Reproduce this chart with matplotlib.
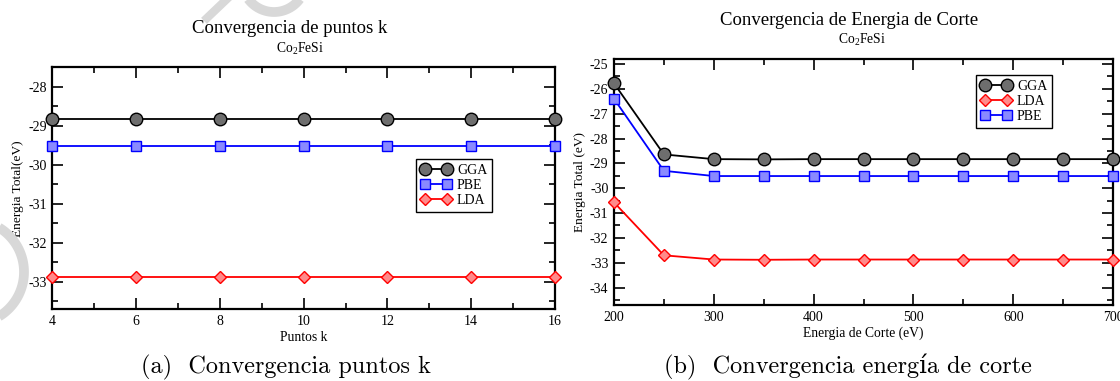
import matplotlib
matplotlib.use("Agg")
import numpy as np
import matplotlib.pyplot as plt
from matplotlib.ticker import MultipleLocator
from matplotlib.transforms import Affine2D

plt.rcParams["font.family"] = ["Liberation Serif", "DejaVu Serif"]
plt.rcParams["axes.unicode_minus"] = False
plt.rcParams["mathtext.fontset"] = "custom"
plt.rcParams["mathtext.rm"] = "Liberation Serif"

# ---- k-point convergence ----
kpoints = [4, 6, 8, 10, 12, 14, 16]
k_gga = [-28.83, -28.83, -28.83, -28.83, -28.83, -28.83, -28.83]
k_pbe = [-29.51, -29.51, -29.51, -29.51, -29.51, -29.51, -29.51]
k_lda = [-32.86, -32.86, -32.86, -32.86, -32.86, -32.86, -32.86]

# ---- cutoff-energy convergence ----
ecut = [200, 250, 300, 350, 400, 450, 500, 550, 600, 650, 700]
e_gga = [-25.78, -28.64, -28.83, -28.84, -28.83, -28.83, -28.83, -28.83, -28.83, -28.83, -28.83]
e_lda = [-30.57, -32.70, -32.87, -32.88, -32.87, -32.87, -32.87, -32.87, -32.87, -32.87, -32.87]
e_pbe = [-26.40, -29.30, -29.51, -29.51, -29.51, -29.51, -29.51, -29.51, -29.51, -29.51, -29.51]

styles = {
    "GGA": dict(color="black", marker="o", mfc="#6e6e6e", mec="black", ms=9),
    "PBE": dict(color="#0000ff", marker="s", mfc="#8a8aff", mec="#0000ff", ms=7.5),
    "LDA": dict(color="#ff0000", marker="D", mfc="#ff8a8a", mec="#ff0000", ms=6.5),
}

W, H = 1120, 381
fig = plt.figure(figsize=(W / 100, H / 100), dpi=100)


def frac_box(x0, y0, x1, y1):
    return [x0 / W, 1 - y1 / H, (x1 - x0) / W, (y1 - y0) / H]


def style_axes(ax):
    for s in ax.spines.values():
        s.set_linewidth(1.6)
    ax.tick_params(which="both", direction="in", top=True, right=True,
                   labelsize=10, pad=4)
    ax.tick_params(which="major", length=8, width=1.2)
    ax.tick_params(which="minor", length=4.5, width=1.2)


def plot_series(ax, x, y, name):
    st = styles[name]
    ax.plot(x, y, lw=1.3, color=st["color"], marker=st["marker"],
            mfc=st["mfc"], mec=st["mec"], ms=st["ms"], mew=1.0,
            label=name, clip_on=False, zorder=3)


# light grey watermark strokes (pixel coordinates, origin top-left)
pix = Affine2D().scale(1 / W, -1 / H).translate(0, 1) + fig.transFigure
wm_color = "#d8d8d8"


def wm_arc(cx, cy, r, a0, a1, lw):
    t = np.radians(np.linspace(a0, a1, 60))
    fig.lines.append(plt.Line2D(cx + r * np.cos(t), cy + r * np.sin(t),
                                color=wm_color, lw=lw, transform=pix,
                                zorder=0, solid_capstyle="butt"))


wm_arc(-28, 272, 52, -60, 60, 7)
wm_arc(274, -20, 32, 15, 165, 7)
fig.lines.append(plt.Line2D([207, 228], [18, -2], color=wm_color, lw=6,
                            transform=pix, zorder=0))

# left panel
ax1 = fig.add_axes(frac_box(52.3, 67.3, 555, 309.3))
plot_series(ax1, kpoints, k_gga, "GGA")
plot_series(ax1, kpoints, k_pbe, "PBE")
plot_series(ax1, kpoints, k_lda, "LDA")
ax1.set_xlim(4, 16)
ax1.set_ylim(-33.7, -27.5)
ax1.xaxis.set_major_locator(MultipleLocator(2))
ax1.xaxis.set_minor_locator(MultipleLocator(1))
ax1.yaxis.set_major_locator(MultipleLocator(1))
ax1.yaxis.set_minor_locator(MultipleLocator(0.5))
style_axes(ax1)
ax1.set_xlabel("Puntos k", fontsize=9.8, labelpad=2)
ax1.set_ylabel("Energia Total(eV)", fontsize=9.6, labelpad=3)
leg1 = ax1.legend(loc="upper left", bbox_to_anchor=((416 - 52.3) / (555 - 52.3), 1 - (159 - 67.3) / (309.3 - 67.3)),
                  numpoints=2, handlelength=2.2, handletextpad=0.4, borderpad=0.35,
                  labelspacing=0.15, fontsize=10, fancybox=False, framealpha=1,
                  edgecolor="black", borderaxespad=0)
leg1.get_frame().set_linewidth(1.0)

# right panel
ax2 = fig.add_axes(frac_box(614, 59, 1113, 305))
plot_series(ax2, ecut, e_gga, "GGA")
plot_series(ax2, ecut, e_lda, "LDA")
plot_series(ax2, ecut, e_pbe, "PBE")
ax2.set_xlim(200, 700)
ax2.set_ylim(-34.7, -24.8)
ax2.xaxis.set_major_locator(MultipleLocator(100))
ax2.xaxis.set_minor_locator(MultipleLocator(50))
ax2.yaxis.set_major_locator(MultipleLocator(1))
ax2.yaxis.set_minor_locator(MultipleLocator(0.5))
style_axes(ax2)
ax2.set_xlabel("Energia de Corte (eV)", fontsize=9.8, labelpad=2)
ax2.set_ylabel("Energia Total (eV)", fontsize=9.6, labelpad=3)
leg2 = ax2.legend(loc="upper left", bbox_to_anchor=((976 - 614) / (1113 - 614), 1 - (75 - 59) / (305 - 59)),
                  numpoints=2, handlelength=2.2, handletextpad=0.4, borderpad=0.35,
                  labelspacing=0.15, fontsize=10, fancybox=False, framealpha=1,
                  edgecolor="black", borderaxespad=0)
leg2.get_frame().set_linewidth(1.0)

# titles and subtitles
fig.text(290 / W, 1 - 33 / H, "Convergencia de puntos k", ha="center", va="baseline", fontsize=13.5)
fig.text(300 / W, 1 - 53 / H, r"Co$_2$FeSi", ha="center", va="baseline", fontsize=9.8)
fig.text(849 / W, 1 - 25 / H, "Convergencia de Energia de Corte", ha="center", va="baseline", fontsize=13.5)
fig.text(862 / W, 1 - 44 / H, r"Co$_2$FeSi", ha="center", va="baseline", fontsize=9.8)

# captions
cap = dict(ha="center", va="baseline", fontsize=17.5, family=["cmr10", "DejaVu Serif"])
fig.text(286 / W, 1 - 373 / H, "(a)  Convergencia puntos k", **cap)
fig.text(848 / W, 1 - 373 / H, "(b)  Convergencia energía de corte", **cap)

fig.savefig("out.png", dpi=100)
